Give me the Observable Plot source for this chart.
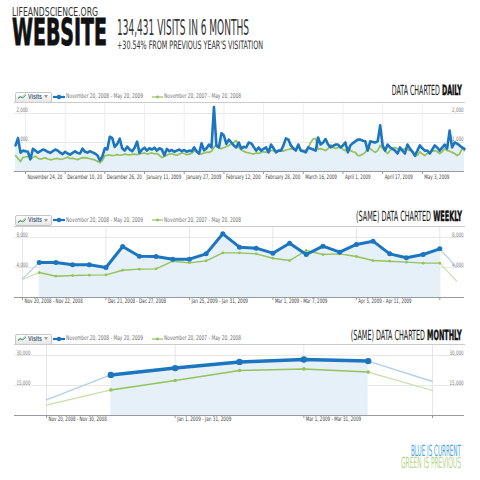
<!DOCTYPE html>
<html><head><meta charset="utf-8">
<script src="https://cdn.jsdelivr.net/npm/d3@7"></script>
<script src="https://cdn.jsdelivr.net/npm/@observablehq/plot@0.6"></script>
<style>
html,body{margin:0;padding:0;background:#fff;}
#root{position:relative;width:480px;height:480px;overflow:hidden;background:#fff;}
.t{position:absolute;white-space:nowrap;line-height:0.8;}
.ic{position:absolute;line-height:0;}
.ic svg{display:block;}
</style></head><body><div id="root"></div>
<script>
// ---------- data ----------
const siteName = "LIFEANDSCIENCE.ORG";
const bigTitle = "WEBSITE";
const headline = "134,431 VISITS IN 6 MONTHS";
const subline = "+30.54% FROM PREVIOUS YEAR'S VISITATION";
const legendLabels = ["November 20, 2008 - May 20, 2009", "November 20, 2007 - May 20, 2008"];
const chartTitles = [["DATA CHARTED ", "DAILY"], ["(SAME) DATA CHARTED ", "WEEKLY"], ["(SAME) DATA CHARTED ", "MONTHLY"]];
const noteLines = ["BLUE IS CURRENT", "GREEN IS PREVIOUS"];

const dailyStart = "2008-11-20";
const dailyCurrent = [
  900,1150,650,720,700,680,420,780,720,650,
  700,760,730,680,640,700,760,720,650,600,
  680,620,580,640,700,640,620,790,680,650,
  700,660,620,560,380,520,800,760,1200,1150,
  850,950,1130,800,720,860,760,700,820,1030,
  640,760,820,720,800,760,820,720,800,760,
  560,780,700,740,680,720,760,700,740,680,
  720,700,830,700,620,970,730,800,930,830,
  2220,880,830,1320,1240,950,1100,1000,900,830,
  1000,790,850,830,1000,970,850,720,830,720,
  780,830,660,930,800,660,720,720,900,1140,
  1100,900,800,720,930,720,700,660,830,790,
  760,720,1170,930,1000,1120,930,830,880,930,
  930,830,900,1000,660,900,980,1040,1100,1100,
  1060,1040,720,1040,1020,1000,1040,1590,900,720,
  930,830,780,720,620,830,720,620,930,790,
  680,550,720,900,800,720,720,620,760,900,
  830,720,820,930,790,1410,830,1000,960,900,
  830,780];
const dailyPrevious = [
  550,450,345,490,500,520,430,480,530,460,
  420,450,470,430,410,420,440,450,420,430,
  460,500,440,460,430,410,450,470,480,460,
  440,420,400,350,300,380,540,560,570,550,
  560,580,560,570,600,580,570,590,600,580,
  610,620,640,600,620,640,610,620,560,480,
  520,560,600,620,580,560,600,640,620,580,
  600,620,720,680,620,600,640,660,660,700,
  830,930,800,790,820,860,900,950,1000,1070,
  830,740,700,660,640,620,600,640,620,660,
  680,660,690,720,720,700,720,720,700,740,
  760,790,760,790,830,760,720,740,830,1000,
  1120,1140,760,790,760,720,790,930,830,790,
  830,830,760,720,830,720,680,660,550,550,
  600,660,830,790,720,660,720,900,790,700,
  620,720,790,830,790,720,760,790,760,720,
  720,520,560,680,600,550,620,660,700,720,
  680,620,680,790,720,700,660,620,550,600,
  790,720];
const dailyTickDates = ["2008-11-24","2008-12-10","2008-12-26","2009-01-11","2009-01-27","2009-02-12","2009-02-28","2009-03-16","2009-04-01","2009-04-17","2009-05-03"];
const dailyTickLabels = ["November 24, 20","December 10, 20","December 26, 20","January 11, 2009","January 27, 2009","February 12, 200","February 28, 200","March 16, 2009","April 1, 2009","April 17, 2009","May 3, 2009"];
const dailyYTicks = [1000, 2000];

const weeklyCurrent = [2490,4670,4670,4360,4360,4000,6800,5510,5470,5110,5110,5820,8490,6710,6580,5910,7240,5730,6850,6040,7070,7510,5820,5290,5730,6490,4040];
const weeklyPrevious = [2400,3330,2840,2930,2980,3020,3640,3780,3820,4840,4620,4890,5950,5950,5820,5240,4930,6270,5730,5820,5470,4930,4840,4710,4580,4580,2180];
const weeklyTickIndex = [0,5,10,15,20,25];
const weeklyTickLabels = ["Nov 20, 2008 - Nov 22, 2008","Dec 21, 2008 - Dec 27, 2008","Jan 25, 2009 - Jan 31, 2009","Mar 1, 2009 - Mar 7, 2009","Apr 5, 2009 - Apr 11, 2009",""];
const weeklyYTicks = [4000, 8000];

const monthlyCurrent = [7830,20300,23700,26800,28000,27200,17000];
const monthlyPrevious = [5170,12800,17500,22500,23300,21700,12500];
const monthlyTickIndex = [0,2,4,6];
const monthlyTickLabels = ["Nov 20, 2008 - Nov 30, 2008","Jan 1, 2009 - Jan 31, 2009","Mar 1, 2009 - Mar 31, 2009",""];
const monthlyYTicks = [15000, 30000];

// ---------- styles ----------
const BLUE = "#1b75bf", GREEN = "#95c25b", FILL = "#e6f0f9";
const PALE_BLUE = "#b3cfe8", PALE_GREEN = "#c8dea9";
const FONT = '"Liberation Sans", Arial, sans-serif';
const NARROW = '"Liberation Sans Narrow", "DejaVu Sans Condensed", "Liberation Sans", sans-serif';
const root = document.getElementById("root");
const fmt = d3.format(",");
const ctx = document.createElement("canvas").getContext("2d");
function arialWidth(txt, size) { ctx.font = `${size}px "Liberation Sans", Arial`; return ctx.measureText(txt).width; }

// Text is laid out at a reduced font size so its box has the target width,
// then stretched vertically back to the intended glyph height.
function addText(html, o) {
  const el = document.createElement("div");
  el.className = "t";
  el.style.fontFamily = o.family || NARROW;
  el.style.fontSize = o.size + "px";
  el.style.fontWeight = o.weight || 400;
  el.style.color = o.color || "#222";
  if (o.stroke) el.style.webkitTextStroke = o.stroke;
  el.innerHTML = html;
  root.appendChild(el);
  const w0 = el.getBoundingClientRect().width;
  const s = o.width ? Math.min(1, o.width / w0) : 1;
  const f2 = o.size * s;
  el.style.fontSize = f2 + "px";
  const w = el.getBoundingClientRect().width;
  const sx = o.width ? o.width / w : 1;
  const asc = 0.7465 * f2;
  el.style.top = (o.baseline - asc) + "px";
  if (o.right != null) { el.style.left = (o.right - w) + "px"; el.style.transformOrigin = `100% ${asc}px`; }
  else { el.style.left = o.left + "px"; el.style.transformOrigin = `0 ${asc}px`; }
  el.style.transform = `scale(${sx}, ${1 / s})`;
  return el;
}

// ---------- page header ----------
addText(siteName, {left: 12, baseline: 16.7, size: 13, color: "#333", width: 86});
addText(bigTitle, {left: 12, baseline: 46.5, size: 37, weight: 700, color: "#111", width: 95, stroke: "0.5px #111"});
addText(headline, {left: 117, baseline: 36.5, size: 22, color: "#333", width: 132});
addText(subline, {left: 117, baseline: 49.3, size: 11.6, color: "#333", width: 146});

function icon(left, top, svg) {
  const d = document.createElement("div");
  d.className = "ic";
  d.style.left = left + "px";
  d.style.top = top + "px";
  d.innerHTML = svg;
  root.appendChild(d);
}

function headerRow(cy, title, titleBaseline, titleWidth) {
  const btn = document.createElement("div");
  btn.style.cssText = `position:absolute;left:15px;top:${cy-5}px;width:35px;height:9px;border:1px solid #c6c6c6;border-radius:2px;background:linear-gradient(#ffffff,#e6e6e6);`;
  root.appendChild(btn);
  icon(18, cy - 3.5, `<svg width="9" height="7"><polyline points="0,6 2,3 4,4.5 8,0.5" fill="none" stroke="${GREEN}" stroke-width="1"/><polyline points="0,5 3,4 5,5 8,2" fill="none" stroke="${BLUE}" stroke-width="0.7"/></svg>`);
  addText("Visits", {left: 28, baseline: cy + 2.3, size: 6.5, weight: 700, color: "#4d6680", width: 14, family: FONT});
  icon(44, cy - 1.5, `<svg width="4" height="3"><polygon points="0,0 4,0 2,3" fill="#999"/></svg>`);
  icon(53, cy - 3, `<svg width="12" height="6"><line x1="0" y1="3" x2="12" y2="3" stroke="${BLUE}" stroke-width="2"/><circle cx="1.5" cy="3" r="1.3" fill="${BLUE}"/><circle cx="6" cy="3" r="2.3" fill="${BLUE}"/><circle cx="10.5" cy="3" r="1.3" fill="${BLUE}"/></svg>`);
  icon(152, cy - 3, `<svg width="11" height="6"><line x1="0" y1="3" x2="11" y2="3" stroke="${GREEN}" stroke-width="1.2"/><circle cx="5.5" cy="3" r="1.4" fill="${GREEN}"/></svg>`);
  addText(legendLabels[0], {left: 66, baseline: cy + 2.3, size: 6.5, color: "#707070", width: 77});
  addText(legendLabels[1], {left: 164, baseline: cy + 2.3, size: 6.5, color: "#707070", width: 77});
  addText(`${title[0]}<b style="color:#111;-webkit-text-stroke:0.25px #111">${title[1]}</b>`, {right: 462, baseline: titleBaseline, size: 14, color: "#222", width: titleWidth});
}

// Axis labels: font size chosen so the label has the target width, then
// stretched vertically back to a 6px glyph height about its anchor.
function mount(svg, top) {
  svg.style.position = "absolute";
  svg.style.left = "0px";
  svg.style.top = top + "px";
  root.appendChild(svg);
  svg.querySelectorAll('g[aria-label="text"] text').forEach(t => {
    const txt = t.textContent;
    if (!txt) return;
    const target = arialWidth(txt, 6) * 0.76;
    const L = t.getComputedTextLength();
    if (!(L > 0)) return;
    const f2 = Math.min(6.5, 6 * target / L);
    t.style.fontSize = f2.toFixed(2) + "px";
    const k = (6.2 / f2).toFixed(3);
    const tr = t.getAttribute("transform");
    if (tr) t.setAttribute("transform", `${tr} scale(1,${k})`);
    else {
      const x = parseFloat(t.getAttribute("x")) || 0, y = parseFloat(t.getAttribute("y")) || 0;
      t.removeAttribute("x"); t.removeAttribute("y");
      t.setAttribute("transform", `translate(${x},${y}) scale(1,${k})`);
    }
  });
}

const common = {width: 480, marginLeft: 14, marginRight: 16, style: {fontFamily: NARROW, background: "transparent", overflow: "visible"}};
const axisText = {fontSize: 6, fill: "#3c3c3c"};
function yLabels(ticks, dy) {
  return [
    Plot.text(ticks, {y: d => d, text: d => fmt(d), frameAnchor: "left", textAnchor: "start", dx: 2, dy, fontSize: 6, fill: "#777"}),
    Plot.text(ticks, {y: d => d, text: d => fmt(d), frameAnchor: "right", textAnchor: "end", dx: -1, dy, fontSize: 6, fill: "#777"})
  ];
}

// ---------- daily ----------
headerRow(96.5, chartTitles[0], 97.3, 70);
const start = new Date(dailyStart);
const daily = dailyCurrent.map((v, i) => ({date: d3.utcDay.offset(start, i), cur: v, prev: dailyPrevious[i]}));
const dTicks = dailyTickDates.map(s => new Date(s));
const dailyYMax = 2379;
mount(Plot.plot({
  ...common, height: 88, marginTop: 4, marginBottom: 15,
  x: {type: "utc", domain: [d3.utcHour.offset(start, -10), d3.utcDay.offset(start, 181)], axis: null},
  y: {domain: [0, dailyYMax], axis: null},
  marks: [
    Plot.ruleY(dailyYTicks, {stroke: "#e8e8e8"}),
    Plot.ruleX(dTicks, {stroke: "#eeeeee"}),
    Plot.areaY(daily, {x: "date", y: "cur", fill: FILL}),
    ...yLabels(dailyYTicks, -3),
    Plot.lineY(daily, {x: "date", y: "prev", stroke: GREEN, strokeWidth: 1.7}),
    Plot.lineY(daily, {x: "date", y: "cur", stroke: BLUE, strokeWidth: 2.6}),
    Plot.frame({anchor: "top", stroke: "#cccccc"}),
    Plot.ruleY([0], {stroke: "#999"}),
    Plot.ruleX(dTicks, {y1: 0, y2: -dailyYMax / 69 * 3, stroke: "#999"}),
    Plot.text(dTicks, {x: d => d, text: (d, i) => dailyTickLabels[i], frameAnchor: "bottom", textAnchor: "start", dx: 2, dy: 7, ...axisText})
  ]
}), 98);

// ---------- weekly ----------
headerRow(220, chartTitles[1], 221, 106);
const weekly = weeklyCurrent.map((v, i) => ({i, cur: v, prev: weeklyPrevious[i]}));
const wFull = weekly.slice(1, 26);
const weeklyYMax = 9467;
mount(Plot.plot({
  ...common, height: 86, marginTop: 4, marginBottom: 11,
  x: {domain: [-0.479, 26.479], axis: null},
  y: {domain: [0, weeklyYMax], axis: null},
  marks: [
    Plot.ruleY(weeklyYTicks, {stroke: "#e8e8e8"}),
    Plot.ruleX(weeklyTickIndex, {stroke: "#e6e6e6"}),
    Plot.areaY(wFull, {x: "i", y: "cur", fill: FILL}),
    ...yLabels(weeklyYTicks, -2),
    Plot.lineY(weekly.slice(0, 2), {x: "i", y: "prev", stroke: PALE_GREEN, strokeWidth: 1.2}),
    Plot.lineY(weekly.slice(25), {x: "i", y: "prev", stroke: PALE_GREEN, strokeWidth: 1.2}),
    Plot.lineY(wFull, {x: "i", y: "prev", stroke: GREEN, strokeWidth: 1.4}),
    Plot.dot(wFull, {x: "i", y: "prev", r: 1.4, fill: GREEN}),
    Plot.lineY(weekly.slice(0, 2), {x: "i", y: "cur", stroke: PALE_BLUE, strokeWidth: 1.2}),
    Plot.lineY(weekly.slice(25), {x: "i", y: "cur", stroke: PALE_BLUE, strokeWidth: 1.2}),
    Plot.lineY(wFull, {x: "i", y: "cur", stroke: BLUE, strokeWidth: 3}),
    Plot.dot(wFull, {x: "i", y: "cur", r: 2.5, fill: BLUE}),
    Plot.frame({anchor: "top", stroke: "#cccccc"}),
    Plot.ruleY([0], {stroke: "#999"}),
    Plot.ruleX(weeklyTickIndex, {y1: 0, y2: -weeklyYMax / 71 * 3, stroke: "#999"}),
    Plot.text(weeklyTickIndex, {x: d => d, text: (d, i) => weeklyTickLabels[i], frameAnchor: "bottom", textAnchor: "start", dx: 2, dy: 5, ...axisText})
  ]
}), 222);

// ---------- monthly ----------
headerRow(338.5, chartTitles[2], 340.7, 111);
const monthly = monthlyCurrent.map((v, i) => ({i, cur: v, prev: monthlyPrevious[i]}));
const mFull = monthly.slice(1, 6);
const monthlyYMax = 35500;
mount(Plot.plot({
  ...common, height: 86, marginTop: 4, marginBottom: 11,
  x: {domain: [-0.497, 6.497], axis: null},
  y: {domain: [0, monthlyYMax], axis: null},
  marks: [
    Plot.ruleY(monthlyYTicks, {stroke: "#e8e8e8"}),
    Plot.ruleX(monthlyTickIndex, {stroke: "#e6e6e6"}),
    Plot.areaY(mFull, {x: "i", y: "cur", fill: FILL}),
    ...yLabels(monthlyYTicks, -2),
    Plot.lineY(monthly.slice(0, 2), {x: "i", y: "prev", stroke: PALE_GREEN, strokeWidth: 1.3}),
    Plot.lineY(monthly.slice(5), {x: "i", y: "prev", stroke: PALE_GREEN, strokeWidth: 1.3}),
    Plot.lineY(mFull, {x: "i", y: "prev", stroke: GREEN, strokeWidth: 1.5}),
    Plot.dot(mFull, {x: "i", y: "prev", r: 1.8, fill: GREEN}),
    Plot.lineY(monthly.slice(0, 2), {x: "i", y: "cur", stroke: PALE_BLUE, strokeWidth: 1.4}),
    Plot.lineY(monthly.slice(5), {x: "i", y: "cur", stroke: PALE_BLUE, strokeWidth: 1.4}),
    Plot.lineY(mFull, {x: "i", y: "cur", stroke: BLUE, strokeWidth: 3.5}),
    Plot.dot(mFull, {x: "i", y: "cur", r: 3.2, fill: BLUE}),
    Plot.frame({anchor: "top", stroke: "#cccccc"}),
    Plot.ruleY([0], {stroke: "#999"}),
    Plot.ruleX(monthlyTickIndex, {y1: 0, y2: -monthlyYMax / 71 * 3, stroke: "#999"}),
    Plot.text(monthlyTickIndex, {x: d => d, text: (d, i) => monthlyTickLabels[i], frameAnchor: "bottom", textAnchor: "start", dx: 2, dy: 5, ...axisText})
  ]
}), 340);

// ---------- note ----------
addText(noteLines[0], {right: 461, baseline: 455, size: 15.4, color: "#4aa4de", width: 50});
addText(noteLines[1], {right: 461, baseline: 470, size: 15.4, color: "#b8d58c", width: 60});
</script></body></html>
